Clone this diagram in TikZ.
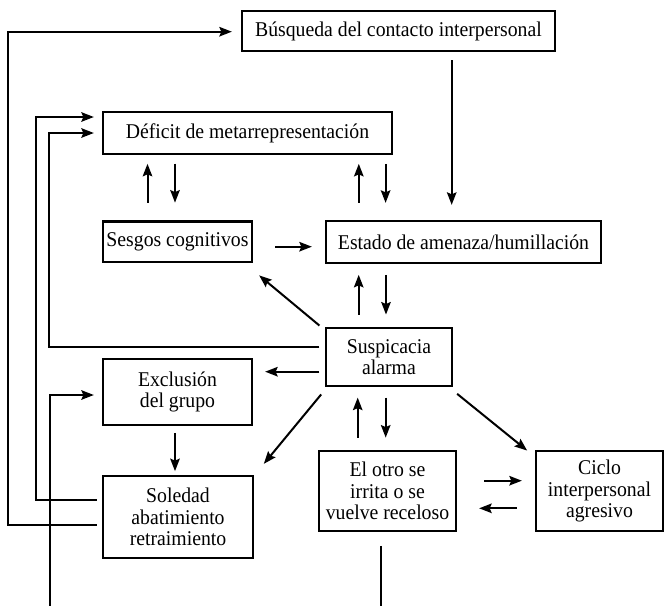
\documentclass[tikz,border=0pt]{standalone}
\usepackage{fontspec}
\setmainfont[FakeStretch=0.94]{Liberation Serif}
\usetikzlibrary{calc,arrows.meta}
\begin{document}
\begin{tikzpicture}[x=1pt,y=-1pt,
  box/.style={draw,line width=2.3pt,inner sep=0pt,align=center,
    font=\fontsize{21}{21.2}\selectfont},
  arr/.style={line width=2pt,-{Stealth[length=12.5pt,width=9.5pt,inset=2pt]}}]
\clip (0,0) rectangle (665,606);
\fill[white] (0,0) rectangle (665,606);

% boxes
\node[box,minimum width=313,minimum height=40] (busq) at (398.5,31) {Búsqueda del contacto interpersonal};
\node[box,minimum width=289,minimum height=42] (defi) at (247.5,133) {Déficit de metarrepresentación};
\node[box,minimum width=149,minimum height=40.5] (sesg) at (177.5,241.7) {Sesgos cognitivos};
\node[box,minimum width=275,minimum height=42] (estado) at (463.5,242) {Estado de amenaza/humillación};
\node[box,minimum width=126,minimum height=58] (susp) at (389,357) {Suspicacia\\alarma};
\node[box,minimum width=149,minimum height=66] (excl) at (177.5,392) {Exclusión\\del grupo};
\node[box,minimum width=150,minimum height=82] (sole) at (178,517) {Soledad\\abatimiento\\retraimiento};
\node[box,minimum width=137,minimum height=80.5] (otro) at (387.5,491) {El otro se\\irrita o se\\vuelve receloso};
\node[box,minimum width=127,minimum height=80] (ciclo) at (599.5,491) {Ciclo\\interpersonal\\agresivo};

% feedback loops along the left side
\draw[arr] ($(sole.west)+(-5,8)$) -- ++(-88.7,0) |- ($(busq.west)+(-9,0.7)$);
\draw[arr] ($(sole.west)+(-5,-17)$) -- ++(-61,0) |- ($(defi.west)+(-8,-16)$);
\draw[arr] ($(susp.west)+(-5.4,-10.3)$) -- ++(-270,0) |- ($(defi.west)+(-8,0)$);
\draw[arr] ($(otro.south)+(-6.5,13.5)$) -- ++(0,90) -| ($(excl.west)+(-52.3,3)$) -- ($(excl.west)+(-8,3)$);

% contact seeking feeds the threat state
\draw[arr] ($(busq.south)+(53.2,8)$) -- ($(estado.north)+(-11.8,-15)$);

% deficit <-> biases, deficit <-> threat
\draw[arr] ($(sesg.north)+(-30,-17.5)$) -- ++(0,-39);
\draw[arr] ($(sesg.north)+(-2.5,-56.7)$) -- ++(0,39);
\draw[arr] ($(estado.north)+(-104.7,-17)$) -- ++(0,-39);
\draw[arr] ($(estado.north)+(-77.9,-56)$) -- ++(0,39);

% biases -> threat
\draw[arr] ($(sesg.east)+(22,5)$) -- ($(estado.west)+(-13,4.7)$);

% threat <-> suspicion
\draw[arr] ($(susp.north)+(-30.3,-12.3)$) -- ++(0,-39.7);
\draw[arr] ($(susp.north)+(-3,-52)$) -- ++(0,39.7);

% suspicion fans out
\draw[arr] ($(susp.north west)+(-5.4,-1.3)$) -- ($(sesg.south east)+(6,12.3)$);
\draw[arr] ($(susp.west)+(-5.4,14.7)$) -- ($(excl.east)+(12,-20.3)$);
\draw[arr] ($(susp.south west)+(-3.7,7.3)$) -- ($(sole.north east)+(9.7,-11)$);
\draw[arr] ($(susp.south east)+(4,6.7)$) -- ($(ciclo.north west)+(-7.7,0.7)$);

% suspicion <-> other's reaction
\draw[arr] ($(otro.north)+(-29.8,-12)$) -- ++(0,-40);
\draw[arr] ($(otro.north)+(-1.8,-52)$) -- ++(0,40);

% exclusion -> loneliness
\draw[arr] ($(excl.south)+(-2.5,6.7)$) -- ++(0,38.3);

% other's reaction <-> aggressive cycle
\draw[arr] ($(otro.east)+(27,-10.3)$) -- ($(ciclo.west)+(-13,-10.3)$);
\draw[arr] ($(ciclo.west)+(-18,17.3)$) -- ($(otro.east)+(22,17.3)$);
\end{tikzpicture}
\end{document}
